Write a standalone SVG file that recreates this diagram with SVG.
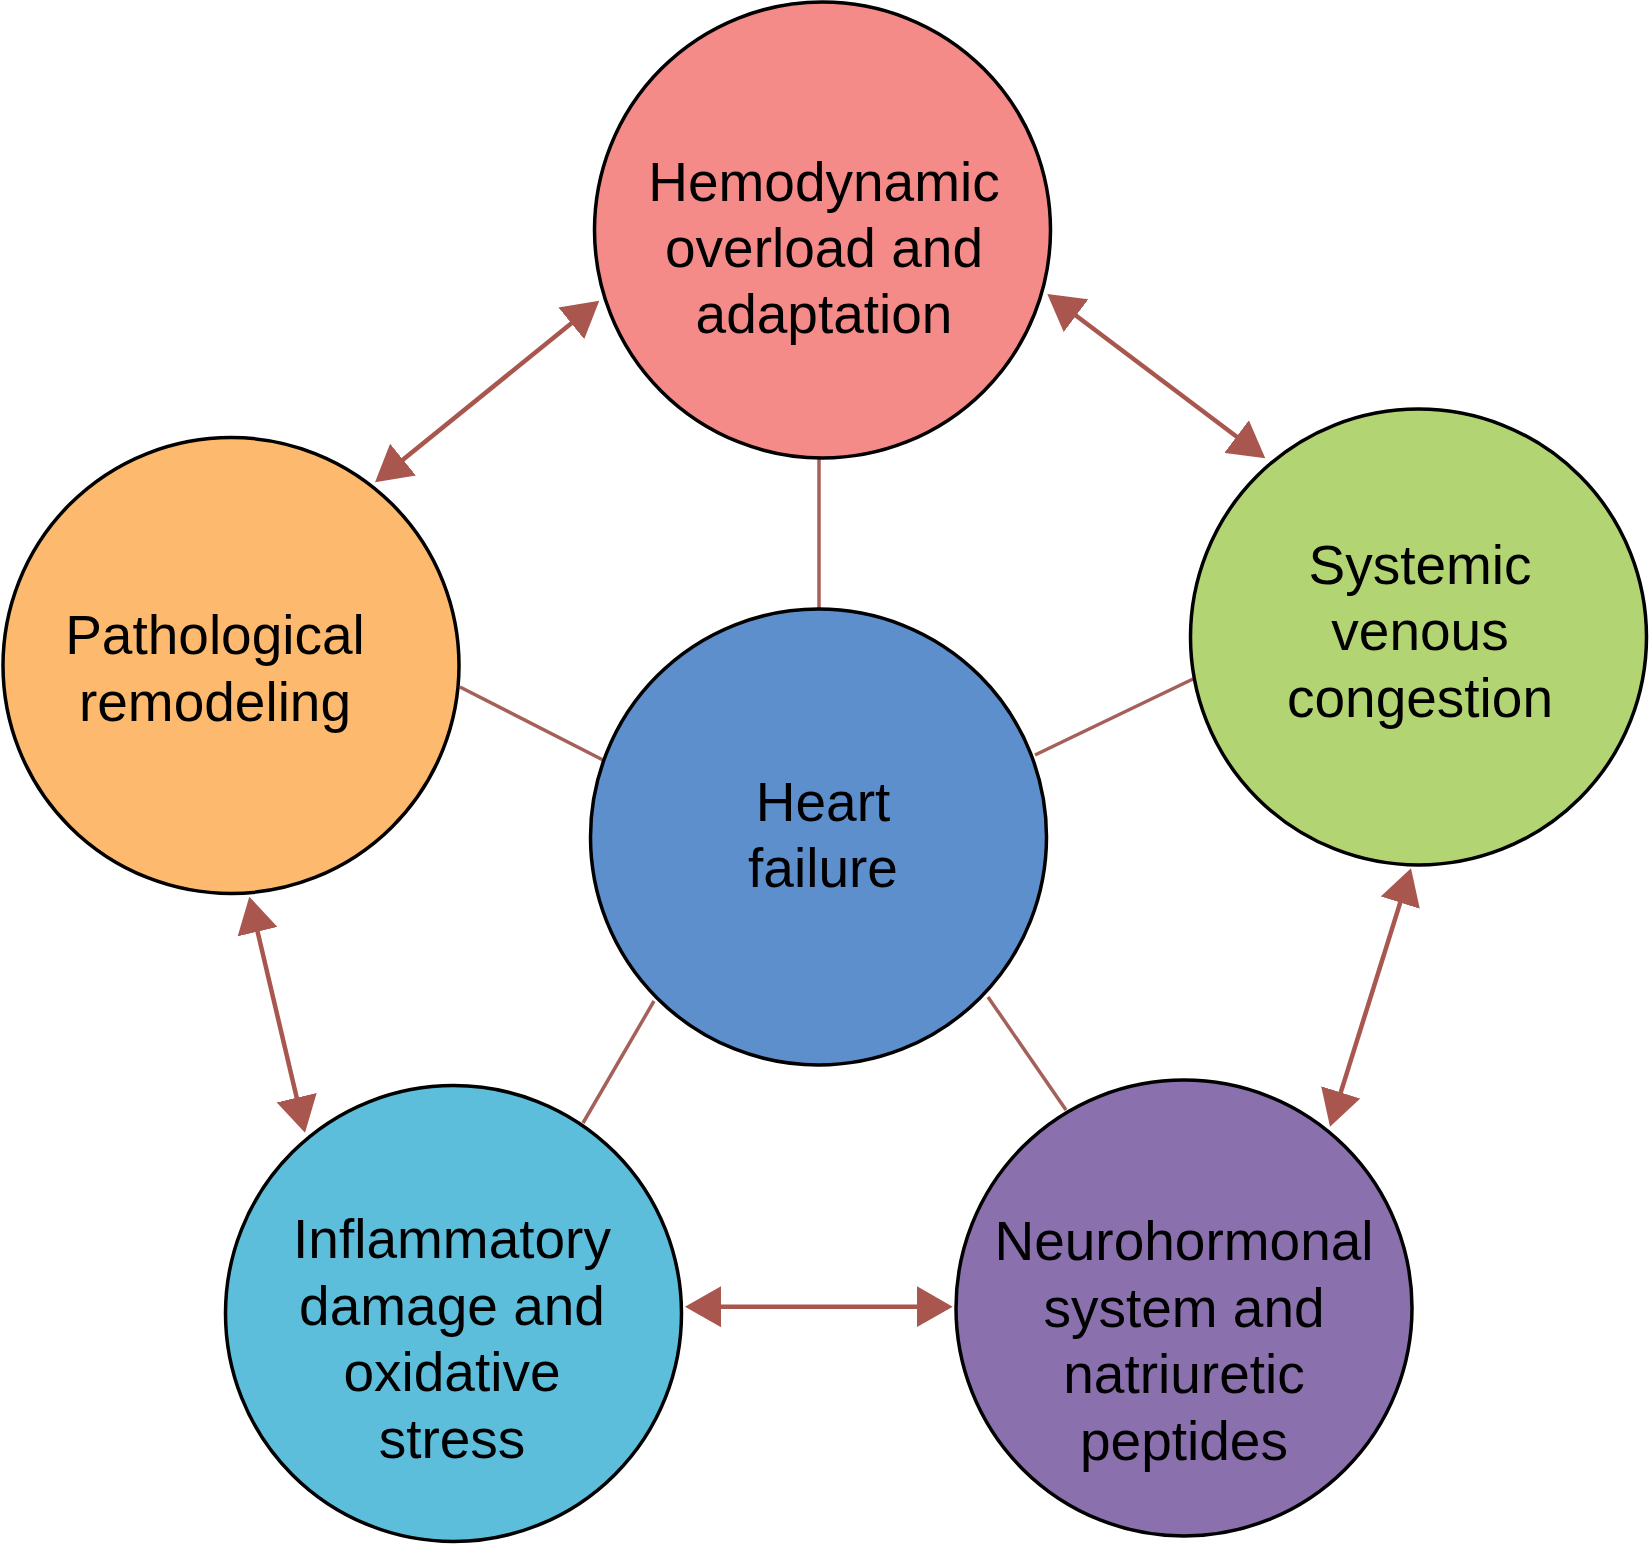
<svg xmlns="http://www.w3.org/2000/svg" width="1649" height="1544" viewBox="0 0 1649 1544">
<style>
.node circle{stroke:#000;stroke-width:3.5}
.node text{font-family:"Liberation Sans",Arial,Helvetica,sans-serif;font-size:55px;fill:#000;text-anchor:middle}
.spoke{stroke:#A5605A;stroke-width:3.5;fill:none}
.arrow{stroke:#A8564E;stroke-width:4.5;fill:none;marker-start:url(#ah);marker-end:url(#ah)}
</style>
<defs>
<marker id="ah" markerUnits="userSpaceOnUse" markerWidth="36" markerHeight="41" refX="26" refY="20.5" orient="auto-start-reverse" viewBox="0 0 36 41">
<path d="M0,0 L36,20.5 L0,41 Z" fill="#A8564E"/>
</marker>
</defs>
<rect width="1649" height="1544" fill="#fff"/>
<g id="connectors">
<line class="spoke" x1="819" y1="458" x2="819" y2="610"/>
<line class="spoke" x1="460" y1="687" x2="603" y2="760"/>
<line class="spoke" x1="1035" y1="755" x2="1193" y2="679"/>
<line class="spoke" x1="654" y1="1001" x2="583" y2="1123"/>
<line class="spoke" x1="988" y1="997" x2="1066" y2="1110"/>
<line class="arrow" x1="591.5" y1="307" x2="382.8" y2="476"/>
<line class="arrow" x1="1055.3" y1="300" x2="1257.3" y2="452.3"/>
<line class="arrow" x1="251.6" y1="906.4" x2="302.7" y2="1123"/>
<line class="arrow" x1="1408" y1="877.8" x2="1333" y2="1117.2"/>
<line class="arrow" x1="695" y1="1306.7" x2="942.7" y2="1306.7"/>
</g>
<g id="node-hemodynamic" class="node">
<circle cx="822.5" cy="230" r="228" fill="#F58B88"/>
<text x="824" y="201">Hemodynamic</text>
<text x="824" y="267">overload and</text>
<text x="824" y="333">adaptation</text>
</g>
<g id="node-systemic" class="node">
<circle cx="1418.5" cy="637" r="228" fill="#B3D473"/>
<text x="1420" y="584">Systemic</text>
<text x="1420" y="650">venous</text>
<text x="1420" y="717">congestion</text>
</g>
<g id="node-pathological" class="node">
<circle cx="231" cy="665.5" r="228" fill="#FDBA6E"/>
<text x="215" y="654">Pathological</text>
<text x="215" y="721">remodeling</text>
</g>
<g id="node-heart-failure" class="node">
<circle cx="818.5" cy="837" r="228" fill="#5E8FCD"/>
<text x="823" y="821">Heart</text>
<text x="823" y="887">failure</text>
</g>
<g id="node-inflammatory" class="node">
<circle cx="453.5" cy="1313.5" r="228" fill="#5DBEDC"/>
<text x="452" y="1258">Inflammatory</text>
<text x="452" y="1325">damage and</text>
<text x="452" y="1391">oxidative</text>
<text x="452" y="1458">stress</text>
</g>
<g id="node-neurohormonal" class="node">
<circle cx="1184" cy="1308" r="228" fill="#8B70AE"/>
<text x="1184" y="1260">Neurohormonal</text>
<text x="1184" y="1327">system and</text>
<text x="1184" y="1393">natriuretic</text>
<text x="1184" y="1460">peptides</text>
</g>
</svg>
